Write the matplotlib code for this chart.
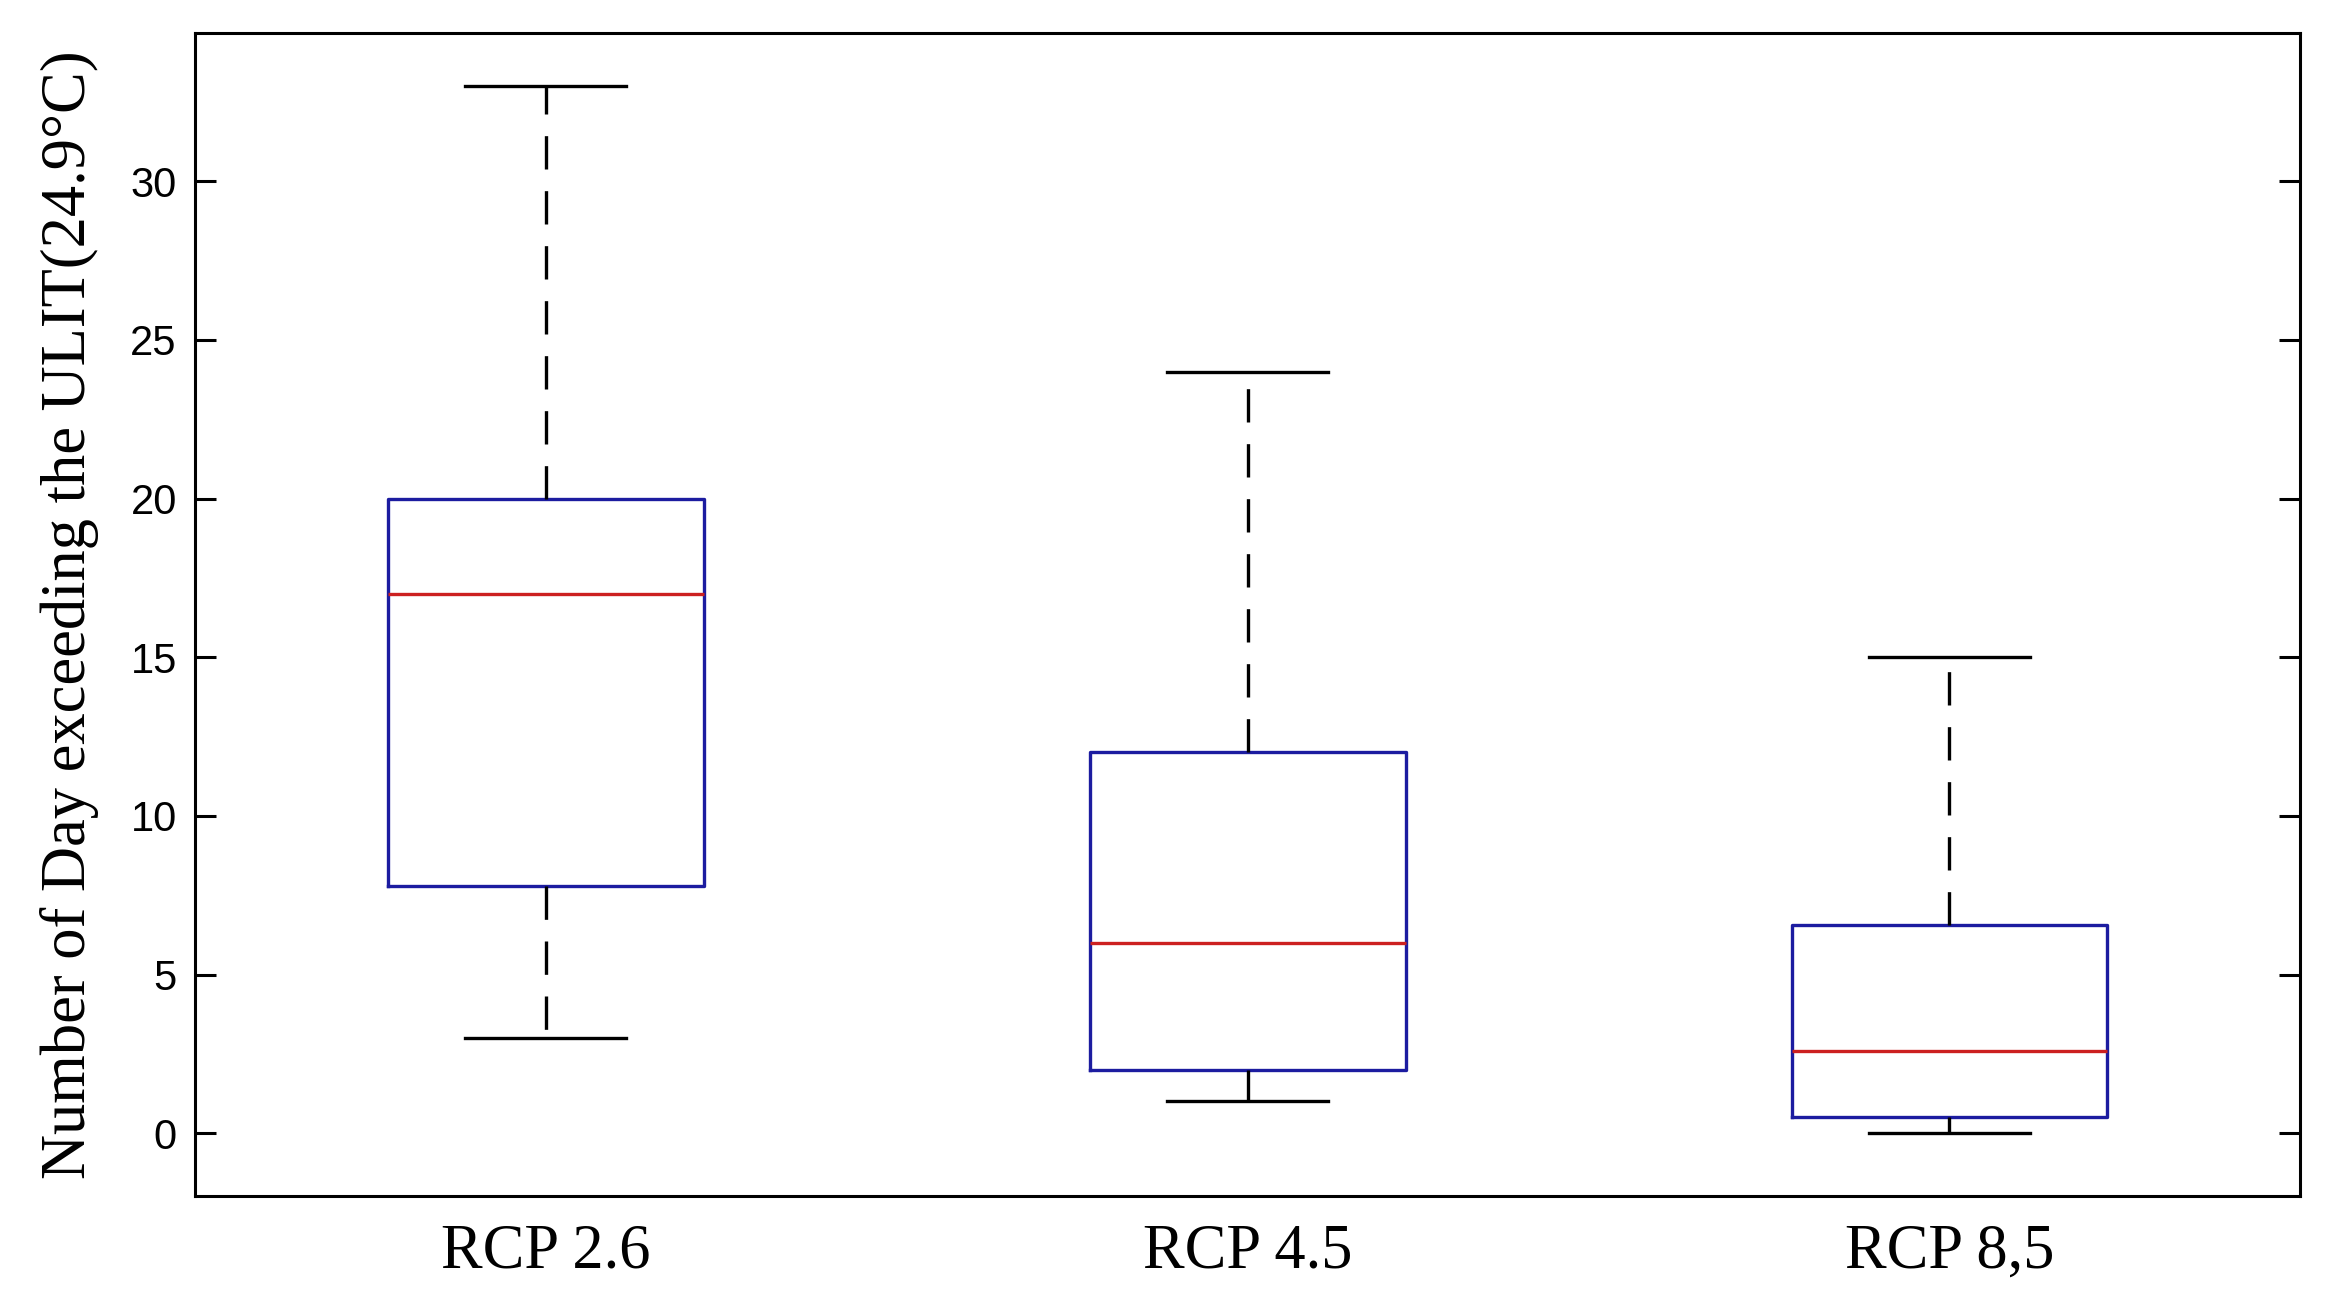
import matplotlib
matplotlib.use('Agg')
import matplotlib.pyplot as plt
from matplotlib import font_manager

# values
scenarios = ['RCP 2.6', 'RCP 4.5', 'RCP 8,5']
whisker_low = [3.0, 1.0, 0.0]
q1 = [7.8, 2.0, 0.5]
median = [17.0, 6.0, 2.6]
q3 = [20.0, 12.0, 6.55]
whisker_high = [33.0, 24.0, 15.0]
yticks = [0, 5, 10, 15, 20, 25, 30]


def pick_font(names):
    for n in names:
        try:
            font_manager.findfont(n, fallback_to_default=False)
            return n
        except Exception:
            pass
    return 'DejaVu Sans'


serif = pick_font(['Liberation Serif', 'DejaVu Serif'])
narrow = pick_font(['Liberation Sans Narrow', 'Liberation Sans', 'DejaVu Sans'])

stats = []
for i in range(len(scenarios)):
    stats.append({
        'whislo': whisker_low[i], 'q1': q1[i], 'med': median[i],
        'q3': q3[i], 'whishi': whisker_high[i], 'fliers': [],
    })

fig = plt.figure(figsize=(23.5, 13.1), dpi=100)
ax = fig.add_axes([0.0829, 0.087, 0.896, 0.888])

box_col = '#1c1ca0'
med_col = '#cc2020'
ax.bxp(stats, positions=[1, 2, 3], widths=0.45, showfliers=False,
       boxprops=dict(color=box_col, linewidth=2.4),
       medianprops=dict(color=med_col, linewidth=2.4),
       whiskerprops=dict(color='black', linewidth=2.4, linestyle=(0, (10, 6.5))),
       capprops=dict(color='black', linewidth=2.4),
       capwidths=0.23)

ax.set_xlim(0.5, 3.5)
ax.set_ylim(-1.98, 34.68)
ax.set_yticks(yticks)
ax.set_yticklabels([str(v) for v in yticks], fontfamily=narrow, fontsize=30)
ax.set_xticks([1, 2, 3])
ax.set_xticklabels(scenarios, fontfamily=serif, fontsize=45)

ax.tick_params(axis='y', direction='in', length=15, width=2.2, right=True, pad=13)
ax.tick_params(axis='x', length=0, pad=20)
for s in ax.spines.values():
    s.set_linewidth(2.2)

ax.set_ylabel('Number of Day exceeding the ULIT(24.9°C)', fontfamily=serif, fontsize=45)
ax.yaxis.set_label_coords(-0.0455, 0.5)

fig.savefig('out.png', dpi=100)
